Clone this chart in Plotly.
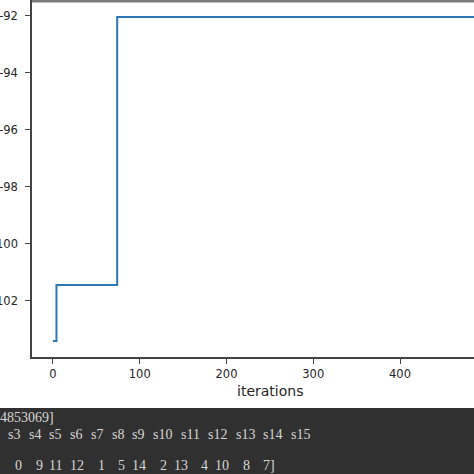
import re
import plotly.graph_objects as go

# step data of best fitness per iteration (only the change points, plus the last iteration)
iterations = [0, 4, 74, 499]
best_fitness = [-103.40, -101.44, -92.04, -92.04]

x_ticks = [0, 100, 200, 300, 400]
y_ticks = [-102, -100, -98, -96, -94, -92]
y_tick_labels = ['-102', '-100', '-98', '-96', '-94', '-92']

# console output strip under the plot
console_lines = [
    "4853069]",
    "s3 s4 s5 s6 s7 s8 s9 s10 s11 s12 s13 s14 s15",
    " 0  9 11 12  1  5 14  2 13  4 10  8  7]",
]

W = H = 474
CHAR_W = 6.9


def px_x(x):
    return x / W


def px_y(y):
    return 1 - y / H


fig = go.Figure()

fig.add_trace(go.Scatter(
    x=iterations,
    y=best_fitness,
    mode='lines',
    line=dict(color='#2a78b6', width=2, shape='hv'),
    showlegend=False,
))

axis_font = dict(family='DejaVu Sans', size=11.5, color='#262626')

fig.update_layout(
    width=W,
    height=H,
    margin=dict(l=0, r=0, t=0, b=0),
    paper_bgcolor='white',
    plot_bgcolor='white',
    xaxis=dict(
        domain=[px_x(32), 1],
        range=[-24.2, 485.3],
        tickvals=x_ticks,
        automargin=False,
        showline=True, linecolor='#444444', linewidth=1.5,
        ticks='outside', ticklen=5, tickcolor='#444444', tickwidth=1.2,
        showgrid=False, zeroline=False,
        tickfont=axis_font,
    ),
    yaxis=dict(
        domain=[px_y(357), 1],
        range=[-103.965, -91.44],
        tickvals=y_ticks,
        ticktext=y_tick_labels,
        automargin=False,
        showline=True, linecolor='#444444', linewidth=1.5,
        ticks='outside', ticklen=5, tickcolor='#444444', tickwidth=1.2,
        ticklabelstandoff=5,
        showgrid=False, zeroline=False,
        tickfont=axis_font,
    ),
)

# top spine (cut at the image edge)
fig.add_shape(type='line', xref='paper', yref='paper',
              x0=px_x(32), x1=1, y0=px_y(1), y1=px_y(1),
              line=dict(color='#7a7a7a', width=3))

fig.add_annotation(text='iterations', xref='paper', yref='paper',
                   x=px_x(270), y=px_y(391), showarrow=False,
                   xanchor='center', yanchor='middle',
                   font=dict(family='DejaVu Sans', size=14, color='#262626'))

# console background
fig.add_shape(type='rect', xref='paper', yref='paper',
              x0=0, x1=1, y0=0, y1=px_y(408),
              fillcolor='#303030', line=dict(width=0), layer='above')

console_x0 = [-2, 6, 6]
console_y = [417, 434, 465]
for text, x0, y in zip(console_lines, console_x0, console_y):
    for m in re.finditer(r'\S+', text):
        fig.add_annotation(text=m.group(), xref='paper', yref='paper',
                           x=px_x(x0 + m.start() * CHAR_W), y=px_y(y),
                           showarrow=False, xanchor='left', yanchor='middle',
                           font=dict(family='Liberation Serif', size=14,
                                     color='#d6d6d6'))

# drop the browser's default body margin so the figure fills the window
fig.write_html("out.html", config={'displayModeBar': False},
               post_script="document.body.style.margin='0';")
